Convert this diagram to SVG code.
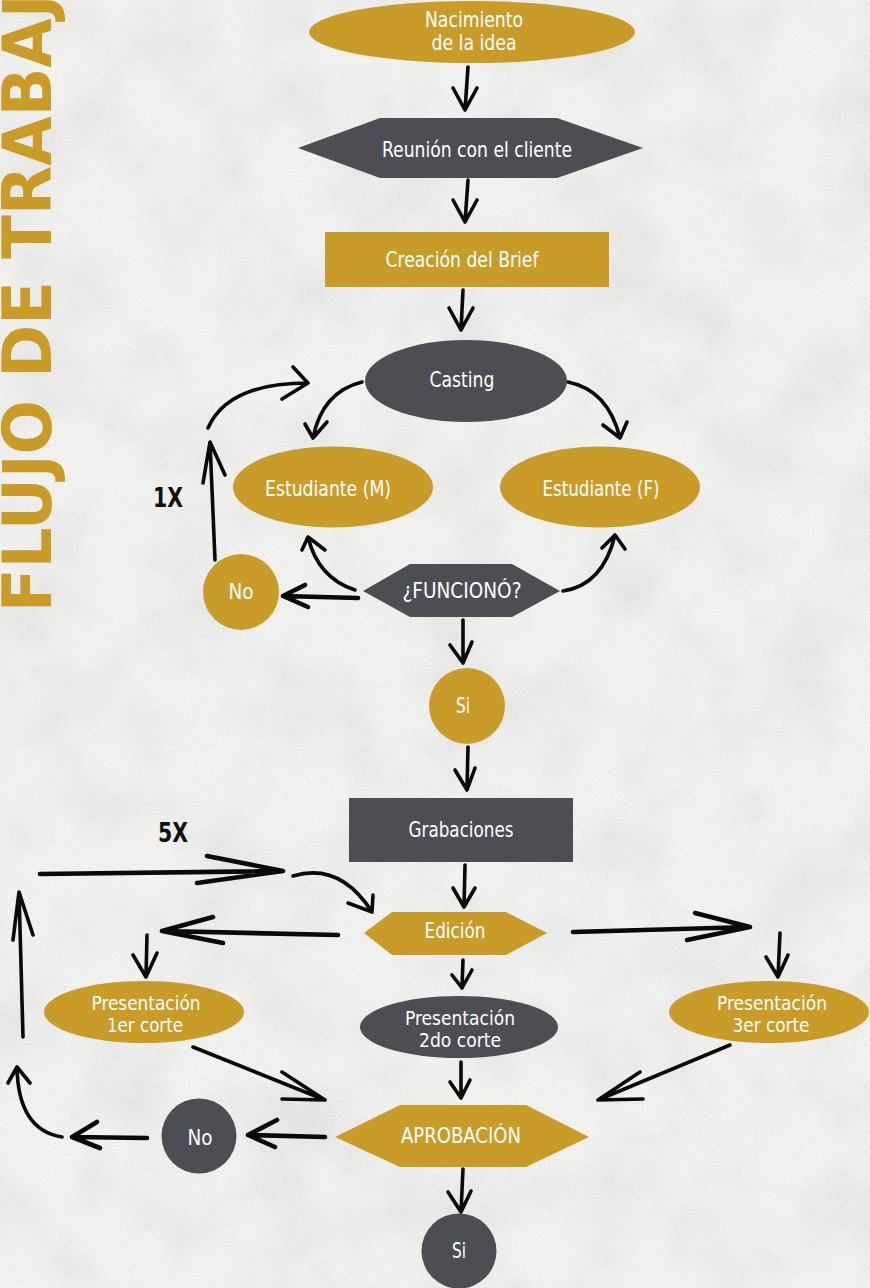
<svg xmlns="http://www.w3.org/2000/svg" width="870" height="1288" viewBox="0 0 870 1288">
<defs>
<style>
.g{fill:#c99c2a}
.d{fill:#4d4e53}
.lb{fill:#ffffff;font-family:"Liberation Sans Narrow","DejaVu Sans Condensed","Liberation Sans",sans-serif;font-size:21.5px;text-anchor:middle}
.sm{font-size:19px}
.bx{fill:#111;font-family:"DejaVu Sans Condensed","Liberation Sans",sans-serif;font-weight:bold;font-size:27px;text-anchor:middle}
.a{fill:none;stroke:#0a0a0a;stroke-width:3.6;stroke-linecap:round;stroke-linejoin:round}
.t{stroke-width:4.6}
</style>
<filter id="tex" x="0" y="0" width="100%" height="100%">
<feTurbulence type="fractalNoise" baseFrequency="0.012" numOctaves="5" seed="7"/>
<feColorMatrix type="matrix" values="0 0 0 0 0.62  0 0 0 0 0.62  0 0 0 0 0.61  0.8 0 0 0 -0.32"/>
</filter>
<filter id="grain" x="0" y="0" width="100%" height="100%">
<feTurbulence type="fractalNoise" baseFrequency="0.7" numOctaves="2" seed="3"/>
<feColorMatrix type="matrix" values="0 0 0 0 0.55  0 0 0 0 0.55  0 0 0 0 0.54  0.6 0 0 0 -0.22"/>
</filter>
</defs>
<rect x="0" y="0" width="870" height="1288" fill="#f4f4f2"/>
<rect x="0" y="0" width="870" height="1288" filter="url(#tex)"/>
<rect x="0" y="0" width="870" height="1288" filter="url(#grain)"/>

<text id="title" transform="translate(51,612) rotate(-90)" fill="#c99c2a" font-family="DejaVu Sans Condensed,Liberation Sans,sans-serif" font-weight="bold" font-size="68" textLength="672" lengthAdjust="spacingAndGlyphs">FLUJO DE TRABAJO</text>

<g id="connectors">
<path class="a" d="M468,67 L465,110 M453,88 L465,110 L477,88"/>
<path class="a" d="M468,180 L465,222 M453,200 L465,222 L477,200"/>
<path class="a" d="M463,290 L461,330 M449,308 L461,330 L473,308"/>
<path class="a" d="M362,382 Q322,392 313,438 M305,424 L313,438 L327,422"/>
<path class="a" d="M568,382 Q608,390 620,438 M603,425 L620,438 L627,422"/>
<path class="a" d="M355,590 Q318,578 308,537 M302,550 L308,537 L325,550"/>
<path class="a" d="M563,591 Q603,585 615,535 M602,548 L615,535 L625,549"/>
<path class="a t" d="M358,598 L283,596 M305,585 L283,596 L308,607"/>
<path class="a" d="M215,560 L210,442 M203,483 L210,442 L225,475"/>
<path class="a" d="M208,428 Q228,383 308,383 M293,367 L308,383 L282,399"/>
<path class="a" d="M463,620 L463,663 M450,645 L463,663 L472,642"/>
<path class="a" d="M468,747 L467,790 M455,770 L467,790 L475,768"/>
<path class="a" d="M465,865 L464,907 M453,888 L464,907 L475,888"/>
<path class="a t" d="M40,874 L283,871 M207,856 L283,871 L197,883"/>
<path class="a" d="M293,876 Q340,862 372,912 M348,903 L372,912 L373,895"/>
<path class="a t" d="M338,935 L162,931 M213,917 L162,931 L223,943"/>
<path class="a" d="M147,935 L146,977 M133,955 L146,977 L157,953"/>
<path class="a" d="M463,960 L462,988 M452,975 L462,988 L472,970"/>
<path class="a t" d="M573,932 L750,927 M695,913 L750,927 L687,940"/>
<path class="a" d="M780,933 L778,977 M766,957 L778,977 L788,955"/>
<path class="a" d="M193,1047 L325,1100 M282,1072 L325,1100 L282,1099"/>
<path class="a" d="M461,1062 L461,1098 M450,1082 L461,1098 L470,1080"/>
<path class="a" d="M730,1045 L598,1100 M640,1072 L598,1100 L643,1099"/>
<path class="a t" d="M325,1137 L248,1135 M277,1120 L248,1135 L275,1147"/>
<path class="a t" d="M147,1138 L72,1137 M97,1122 L72,1137 L100,1148"/>
<path class="a" d="M62,1137 Q18,1130 17,1067 M8,1083 L17,1067 L30,1083"/>
<path class="a" d="M23,1037 L19,892 M13,940 L19,892 L33,935"/>
<path class="a" d="M463,1169 L461,1212 M448,1192 L461,1212 L471,1191"/>
</g>

<g id="nacimiento"><ellipse class="g" cx="472" cy="32" rx="163" ry="31"/><text class="lb" x="474" y="27" textLength="98" lengthAdjust="spacingAndGlyphs">Nacimiento</text><text class="lb" x="474" y="50" textLength="85" lengthAdjust="spacingAndGlyphs">de la idea</text></g>
<g id="reunion"><polygon class="d" points="298,148 380,118 557,118 643,148 557,178 380,178"/><text class="lb" x="477" y="157" textLength="190" lengthAdjust="spacingAndGlyphs">Reunión con el cliente</text></g>
<g id="brief"><rect class="g" x="325" y="232" width="284" height="55"/><text class="lb" x="462" y="267" textLength="153" lengthAdjust="spacingAndGlyphs">Creación del Brief</text></g>
<g id="casting"><ellipse class="d" cx="466" cy="381" rx="101" ry="41"/><text class="lb" x="462" y="387" textLength="65" lengthAdjust="spacingAndGlyphs">Casting</text></g>
<g id="estM"><ellipse class="g" cx="333" cy="487" rx="100" ry="40.5"/><text class="lb" x="328" y="496" textLength="126" lengthAdjust="spacingAndGlyphs">Estudiante (M)</text></g>
<g id="estF"><ellipse class="g" cx="600" cy="487" rx="100" ry="40.5"/><text class="lb" x="601" y="496" textLength="117" lengthAdjust="spacingAndGlyphs">Estudiante (F)</text></g>
<g id="funciono"><polygon class="d" points="363,591 410,564 512,564 560,591 512,617 410,617"/><text class="lb" x="462" y="598" textLength="119" lengthAdjust="spacingAndGlyphs">¿FUNCIONÓ?</text></g>
<g id="no1"><circle class="g" cx="241" cy="592" r="38"/><text class="lb" x="241" y="599" textLength="25" lengthAdjust="spacingAndGlyphs">No</text></g>
<g id="si1"><circle class="g" cx="467" cy="706" r="38"/><text class="lb" x="463" y="713" textLength="14" lengthAdjust="spacingAndGlyphs">Si</text></g>
<g id="grabaciones"><rect class="d" x="349" y="798" width="224" height="64"/><text class="lb" x="461" y="837" textLength="105" lengthAdjust="spacingAndGlyphs">Grabaciones</text></g>
<g id="edicion"><polygon class="g" points="364,933 392,912 506,912 547,933 506,955 392,955"/><text class="lb" x="455" y="938" textLength="61" lengthAdjust="spacingAndGlyphs">Edición</text></g>
<g id="pres1"><ellipse class="g" cx="144" cy="1012" rx="100" ry="31"/><text class="lb sm" x="146" y="1010" textLength="109" lengthAdjust="spacingAndGlyphs">Presentación</text><text class="lb sm" x="145" y="1032" textLength="76" lengthAdjust="spacingAndGlyphs">1er corte</text></g>
<g id="pres2"><ellipse class="d" cx="459" cy="1027" rx="99" ry="31"/><text class="lb sm" x="460" y="1025" textLength="110" lengthAdjust="spacingAndGlyphs">Presentación</text><text class="lb sm" x="460" y="1047" textLength="82" lengthAdjust="spacingAndGlyphs">2do corte</text></g>
<g id="pres3"><ellipse class="g" cx="769" cy="1012" rx="100" ry="31"/><text class="lb sm" x="772" y="1010" textLength="110" lengthAdjust="spacingAndGlyphs">Presentación</text><text class="lb sm" x="771" y="1032" textLength="77" lengthAdjust="spacingAndGlyphs">3er corte</text></g>
<g id="aprobacion"><polygon class="g" points="335,1137 400,1105 526,1105 589,1137 526,1167 400,1167"/><text class="lb" x="461" y="1143" textLength="120" lengthAdjust="spacingAndGlyphs">APROBACIÓN</text></g>
<g id="no2"><circle class="d" cx="199" cy="1136" r="37.5"/><text class="lb" x="200" y="1145" textLength="25" lengthAdjust="spacingAndGlyphs">No</text></g>
<g id="si2"><circle class="d" cx="459" cy="1251" r="37.5"/><text class="lb" x="459" y="1258" textLength="14" lengthAdjust="spacingAndGlyphs">Si</text></g>
<g id="labels"><text class="bx" x="168" y="507" textLength="30" lengthAdjust="spacingAndGlyphs">1X</text><text class="bx" x="173" y="842" textLength="30" lengthAdjust="spacingAndGlyphs">5X</text></g>
</svg>
